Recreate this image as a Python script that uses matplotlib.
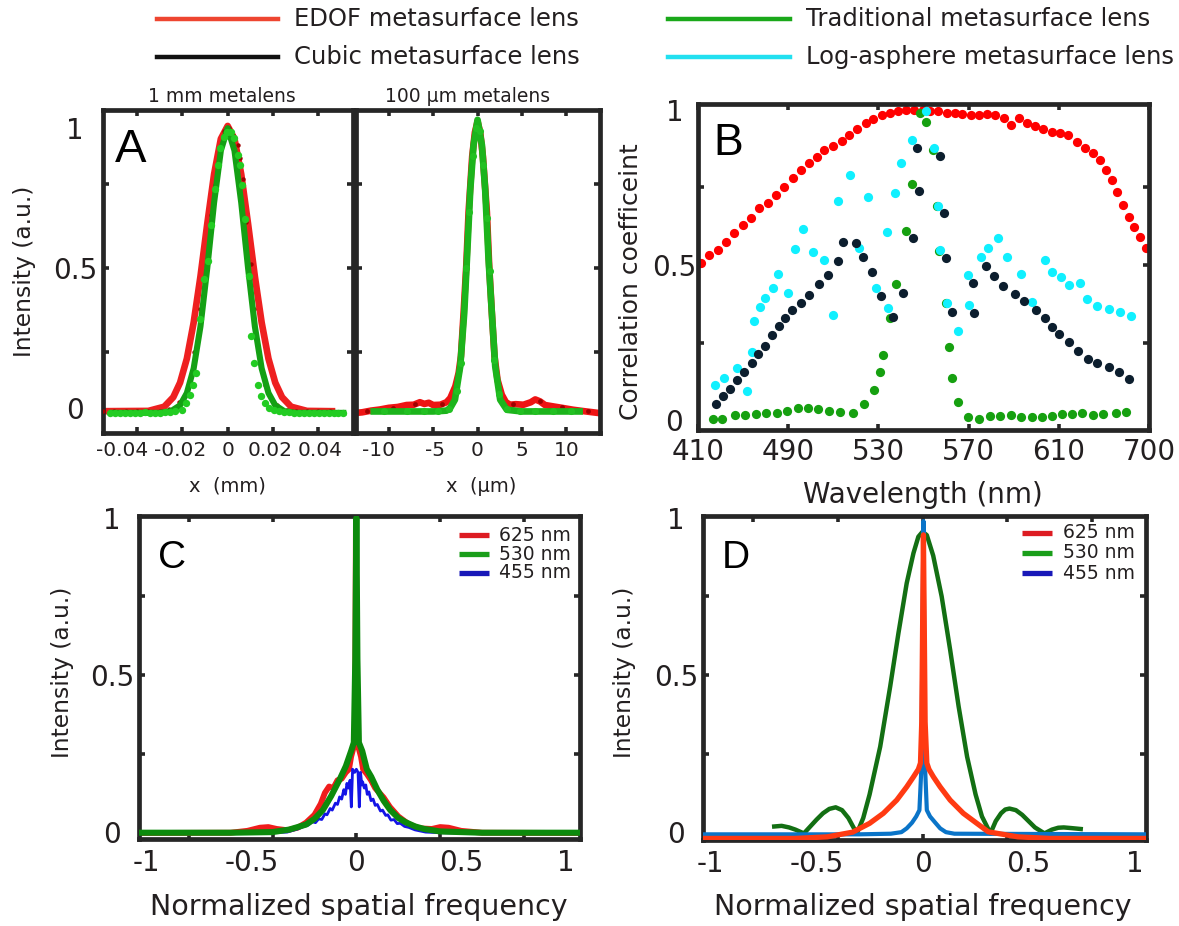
import numpy as np
import matplotlib
matplotlib.use("Agg")
import matplotlib.pyplot as plt
from matplotlib.transforms import ScaledTranslation

plt.rcParams["font.family"] = "DejaVu Sans"
plt.rcParams["axes.unicode_minus"] = False

# the figure is laid out in pixels: 1179 x 926 at 100 dpi
W, H = 1179, 926
INK = "#231f20"
FRAME = "#262626"

# ---------------- A: focal spot profiles ----------------
# 1 mm metalens, x in mm
a1_red_x = [-0.055, -0.035, -0.028, -0.024, -0.021, -0.018, -0.015, -0.012, -0.009, -0.006, -0.003, 0.0,
            0.003, 0.006, 0.009, 0.012, 0.015, 0.018, 0.021, 0.024, 0.028, 0.035, 0.046]
a1_red_y = [-0.012, -0.011, 0.004, 0.038, 0.09, 0.176, 0.305, 0.47, 0.658, 0.835, 0.962, 1.008,
            0.962, 0.835, 0.658, 0.47, 0.305, 0.176, 0.09, 0.038, 0.004, -0.011, -0.012]
a1_green_x = [-0.051, -0.03, -0.025, -0.021, -0.018, -0.015, -0.012, -0.009, -0.006, -0.003, 0.0,
              0.003, 0.006, 0.009, 0.012, 0.015, 0.018, 0.021, 0.025, 0.03, 0.051]
a1_green_y = [-0.018, -0.018, -0.012, 0.009, 0.053, 0.141, 0.291, 0.5, 0.733, 0.92, 1.0,
              0.92, 0.733, 0.5, 0.291, 0.141, 0.053, 0.009, -0.012, -0.018, -0.018]
a1_rdot_x = [-0.0548, -0.050, -0.045, -0.040, -0.035, -0.030, -0.026, -0.0215, -0.0179, -0.015, -0.012,
             -0.0091, -0.0073, -0.0054, -0.0035, -0.0015, 0.0005, 0.0025, 0.0044, 0.0056, 0.0068, 0.0082,
             0.0103, 0.0115, 0.0137, 0.0166, 0.0217, 0.026, 0.030, 0.035, 0.040, 0.045]
a1_rdot_y = [-0.012, -0.013, -0.012, -0.013, -0.011, -0.012, -0.004, 0.02, 0.053, 0.2, 0.353,
             0.508, 0.688, 0.796, 0.92, 0.99, 1.0, 0.975, 0.94, 0.892, 0.82, 0.664,
             0.514, 0.353, 0.197, 0.083, 0.011, -0.008, -0.011, -0.012, -0.011, -0.012]
a1_gdot_x = [-0.0517, -0.0495, -0.0473, -0.0451, -0.0429, -0.0407, -0.0385, -0.0363, -0.0341, -0.0319,
             -0.0297, -0.0275, -0.0253, -0.0231,
             -0.0201, -0.0182, -0.0167, -0.0153, -0.0141, -0.0123, -0.0103, -0.0088, -0.0073, -0.0057,
             -0.0044, -0.0032, -0.0018, -0.0003, 0.0015, 0.0029, 0.0044, 0.0053, 0.0063, 0.0078, 0.0093,
             0.0103, 0.0115, 0.0132, 0.0147, 0.0166, 0.0181,
             0.0203, 0.0225, 0.0247, 0.0269, 0.0291, 0.0313, 0.0335, 0.0357, 0.0379, 0.0401, 0.0423,
             0.0445, 0.0467, 0.0489, 0.0511]
a1_gdot_y = [-0.018, -0.019, -0.017, -0.019, -0.018, -0.019, -0.018, -0.016, -0.018, -0.019,
             -0.017, -0.016, -0.015, -0.012,
             -0.007, 0.019, 0.047, 0.083, 0.125, 0.317, 0.460, 0.526, 0.652, 0.784,
             0.868, 0.928, 0.970, 0.988, 0.988, 0.964, 0.904, 0.868, 0.796, 0.676, 0.472,
             0.257, 0.161, 0.083, 0.041, 0.017, -0.001,
             -0.008, -0.012, -0.015, -0.016, -0.018, -0.017, -0.019, -0.018, -0.019, -0.018, -0.019,
             -0.020, -0.019, -0.020, -0.020]
a1_ticks = [-0.04, -0.02, 0, 0.02, 0.04]
a1_ticklabels = ["-0.04", "-0.02", "0", "0.02", "0.04"]

# 100 um metalens, x in um
a2_red_x = [-14, -13, -12, -11, -10, -9, -8, -7.2, -6.5, -6, -5.5, -5, -4.2, -3.5, -3.07,
            -2.5, -2.13, -1.87, -1.57, -1.27, -1.01, -0.6, -0.3, 0,
            0.3, 0.6, 1.05, 1.31, 1.61, 1.91, 2.25, 2.73,
            3.2, 3.67, 4.3, 5.17, 6, 6.5, 7.04, 7.6, 8.54, 9.5, 10.79, 12, 13.78]
a2_red_y = [-0.019, -0.016, -0.01, -0.006, 0.0, 0.003, 0.01, 0.011, 0.02, 0.014, 0.018, 0.01, 0.011, 0.02, 0.035,
            0.077, 0.125, 0.185, 0.34, 0.508, 0.70, 0.90, 0.985, 1.024,
            0.985, 0.90, 0.70, 0.508, 0.34, 0.185, 0.10, 0.047,
            0.02, 0.011, 0.013, 0.011, 0.02, 0.03, 0.023, 0.01, 0.005, 0.0, -0.007, -0.012, -0.019]
a2_green_x = [-11.7, -5, -3.5, -3.07, -2.55, -1.95, -1.5, -1.2, -0.82, -0.45, 0,
              0.49, 0.86, 1.24, 1.61, 1.99, 2.55, 3.3, 5, 11.5]
a2_green_y = [-0.013, -0.013, -0.01, 0.0, 0.029, 0.149, 0.34, 0.53, 0.78, 0.94, 1.03,
              0.94, 0.78, 0.53, 0.34, 0.149, 0.029, -0.007, -0.013, -0.013]
a2_rdot_x = [-12.5, -9.5, -7, -4, -2.2, -1.7, -1.1, -0.7, 0.7, 1.1, 1.7, 2.2, 4, 7, 9.5, 12.5]
a2_rdot_y = [-0.012, 0.001, 0.012, 0.012, 0.1, 0.25, 0.65, 0.85, 0.85, 0.65, 0.25, 0.1, 0.012, 0.025, 0.003, -0.013]
a2_gdot_x = [-10.5, -8, -6, -4.5, -3.2, -2.3, -1.9, -1.35, -0.95, -0.55, -0.2,
             0.25, 0.65, 1.05, 1.45, 1.9, 2.4, 3.3, 4.8, 6.5, 8.5, 10.5]
a2_gdot_y = [-0.013, -0.012, -0.012, -0.011, -0.005, 0.06, 0.16, 0.5, 0.70, 0.90, 1.0,
             0.99, 0.87, 0.68, 0.49, 0.17, 0.05, -0.005, -0.01, -0.012, -0.012, -0.013]
a2_ticks = [-10, -5, 0, 5, 10]
a2_ticklabels = ["-10", "-5", "0", "5", "10"]

# ---------------- B: correlation coefficient vs wavelength ----------------
b_ticks = [410, 490, 530, 570, 610, 700]

edof_wl = [412.7, 419.8, 427.5, 434.8, 442.2, 449.6, 457.0, 464.4, 471.8, 479.2, 486.6,
           492.0, 495.7, 499.4, 502.6, 506.0, 510.0, 513.7, 517.1, 520.6, 524.4, 527.7, 531.5, 535.1,
           538.8, 542.2, 545.9, 549.6, 552.9, 556.6, 560.3, 564.0, 567.2, 570.9, 574.6, 578.3, 581.7,
           585.7, 588.8, 592.5, 596.0, 599.5, 603.1, 606.9,
           611.2, 619.5, 627.9, 636.1, 643.8, 651.1, 657.3, 662.9, 668.5, 674.1, 679.7, 685.2, 690.8, 696.6]
edof_cc = [0.505, 0.532, 0.548, 0.575, 0.602, 0.629, 0.650, 0.683, 0.701, 0.726, 0.753,
           0.780, 0.806, 0.828, 0.849, 0.871, 0.882, 0.901, 0.919, 0.938, 0.957, 0.971, 0.984, 0.991,
           0.995, 1.0, 1.0, 1.0, 0.997, 0.995, 0.991, 0.991, 0.987, 0.984, 0.984, 0.987, 0.984,
           0.973, 0.952, 0.973, 0.957, 0.948, 0.938, 0.930,
           0.925, 0.919, 0.895, 0.878, 0.862, 0.839, 0.806, 0.774, 0.736, 0.694, 0.656, 0.624, 0.591, 0.554]

trad_wl = [423.6, 431.6, 442.8, 451.7, 461.2, 470.1, 479.8, 488.7,
           494.5, 498.9, 503.3, 508.2, 513.0, 518.9, 523.6, 528.2, 530.7, 532.2, 535.2, 537.8, 542.1,
           544.8, 548.5, 551.3, 554.4, 556.1, 556.9, 559.9, 561.3, 562.8, 565.4, 569.6, 574.6, 579.5,
           583.9, 588.7, 593.2, 598.0, 602.4, 606.9,
           612.9, 622.9, 633.5, 644.1, 654.1, 666.8, 676.8]
trad_cc = [0.005, 0.005, 0.016, 0.016, 0.018, 0.022, 0.022, 0.030,
           0.038, 0.038, 0.035, 0.030, 0.025, 0.022, 0.053, 0.098, 0.156, 0.210, 0.328, 0.438, 0.611,
           0.760, 0.991, 0.962, 0.872, 0.691, 0.546, 0.376, 0.235, 0.137, 0.057, 0.011, 0.005, 0.013,
           0.013, 0.016, 0.011, 0.011, 0.009, 0.013,
           0.019, 0.019, 0.022, 0.016, 0.019, 0.024, 0.027]

logasph_wl = [425.1, 433.3, 444.9, 453.2, 457.6, 459.9, 465.0, 469.4, 476.2, 481.2, 489.6,
              493.0, 496.7, 501.1, 505.9, 510.0, 512.1, 517.6, 521.2, 525.2, 528.9, 534.0, 534.3, 537.4,
              540.0, 544.9, 551.3, 554.7, 556.4, 557.5, 560.2, 565.3, 569.9, 570.2, 575.7, 578.7, 583.2,
              587.2, 593.2, 597.9, 603.9, 607.0,
              612.2, 619.7, 631.2, 638.4, 648.1, 660.1, 670.6, 681.6]
logasph_cc = [0.113, 0.137, 0.167, 0.095, 0.220, 0.320, 0.363, 0.395, 0.425, 0.471, 0.409,
              0.551, 0.615, 0.543, 0.516, 0.339, 0.706, 0.790, 0.556, 0.720, 0.427, 0.605, 0.360, 0.731,
              0.828, 0.903, 0.997, 0.876, 0.691, 0.548, 0.376, 0.288, 0.468, 0.370, 0.525, 0.556, 0.588,
              0.527, 0.470, 0.382, 0.516, 0.478,
              0.462, 0.437, 0.443, 0.390, 0.369, 0.357, 0.349, 0.335]

cubic_wl = [425.7, 432.5, 438.4, 444.3, 451.1, 457.6, 463.0, 469.4, 475.9, 482.1, 487.2,
            491.8, 495.7, 499.2, 503.7, 507.8, 512.2, 514.4, 519.9, 523.3, 527.3, 531.0, 536.3, 541.0,
            545.5, 548.0, 547.3, 557.3, 559.1, 559.9, 562.8, 572.1, 572.6, 577.6, 581.3, 585.4, 590.6,
            594.6, 599.9, 603.9, 607.1,
            610.5, 620.2, 629.5, 638.8, 647.8, 660.1, 670.1, 680.1]
cubic_cc = [0.052, 0.077, 0.101, 0.129, 0.156, 0.183, 0.212, 0.239, 0.274, 0.303, 0.328,
            0.355, 0.378, 0.403, 0.439, 0.468, 0.514, 0.575, 0.572, 0.527, 0.477, 0.400, 0.333, 0.411,
            0.586, 0.737, 0.878, 0.852, 0.667, 0.522, 0.349, 0.443, 0.344, 0.498, 0.465, 0.433, 0.405,
            0.385, 0.355, 0.328, 0.299,
            0.276, 0.251, 0.224, 0.196, 0.183, 0.172, 0.156, 0.131]

# ---------------- C: MTF, EDOF lens ----------------
c_red_x = [-1.04, -0.6, -0.52, -0.46, -0.42, -0.38, -0.33, -0.28, -0.24, -0.2, -0.17, -0.15, -0.13, -0.11,
           -0.09, -0.07, -0.05, -0.035, -0.025, -0.015, -0.006, -0.002, 0.004, 0.012, 0.022, 0.032, 0.05,
           0.07, 0.09, 0.11, 0.13, 0.16, 0.2, 0.25, 0.3, 0.36, 0.4, 0.44, 0.5, 0.6, 1.07]
c_red_y = [-0.003, -0.002, 0.004, 0.014, 0.016, 0.01, 0.006, 0.014, 0.03, 0.055, 0.09, 0.125, 0.145, 0.14,
           0.165, 0.17, 0.19, 0.2, 0.24, 0.265, 0.3, 1.0, 0.3, 0.265, 0.24, 0.2, 0.185,
           0.165, 0.14, 0.125, 0.11, 0.08, 0.05, 0.025, 0.012, 0.01, 0.016, 0.014, 0.004, -0.002, -0.003]
c_green_x = [-1.04, -0.6, -0.4, -0.32, -0.24, -0.2, -0.16, -0.12, -0.08, -0.05, -0.025, -0.012, -0.005, 0.0,
             0.005, 0.012, 0.028, 0.05, 0.071, 0.1, 0.13, 0.162, 0.2, 0.233, 0.28, 0.323, 0.4, 0.6, 1.07]
c_green_y = [-0.002, -0.002, 0.0, 0.008, 0.024, 0.042, 0.07, 0.115, 0.167, 0.21, 0.258, 0.285, 0.55, 1.0,
             0.55, 0.285, 0.258, 0.2, 0.176, 0.135, 0.1, 0.07, 0.045, 0.032, 0.018, 0.01, 0.002, -0.002, -0.002]
c_blue_x = [-1.04, -0.6, -0.4, -0.33, -0.28, -0.25, -0.23, -0.21, -0.195, -0.18, -0.165, -0.15, -0.14,
            -0.125, -0.115, -0.1, -0.09, -0.08, -0.07, -0.06, -0.052, -0.045, -0.038, -0.03, -0.024,
            -0.018, -0.008, 0.0, 0.008, 0.014, 0.02, 0.026, 0.03, 0.038, 0.045, 0.052, 0.06, 0.07, 0.08,
            0.09, 0.1, 0.115, 0.125, 0.14, 0.15, 0.165, 0.18, 0.195, 0.21, 0.23, 0.25, 0.28, 0.33, 0.4,
            0.6, 1.07]
c_blue_y = [-0.004, -0.004, -0.002, 0.0, 0.010, 0.018, 0.022, 0.033, 0.03, 0.042, 0.04, 0.058, 0.055,
            0.075, 0.07, 0.092, 0.088, 0.112, 0.105, 0.135, 0.12, 0.155, 0.14, 0.165, 0.08,
            0.2, 0.19, 0.2, 0.19, 0.08, 0.19, 0.15, 0.16, 0.14, 0.15, 0.12, 0.128, 0.1, 0.105,
            0.085, 0.088, 0.067, 0.07, 0.053, 0.055, 0.038, 0.04, 0.027, 0.028, 0.018, 0.015, 0.007, 0.0,
            -0.002, -0.004, -0.004]

# ---------------- D: MTF, traditional lens ----------------
d_green_x = [-0.70, -0.665, -0.63, -0.60, -0.56, -0.53, -0.50, -0.47, -0.44, -0.41, -0.38, -0.35, -0.33,
             -0.31, -0.28, -0.25, -0.20, -0.153, -0.114, -0.075, -0.043, -0.02, 0.0, 0.02, 0.05, 0.09,
             0.13, 0.17, 0.21, 0.25, 0.28, 0.32, 0.345, 0.37, 0.39, 0.41, 0.44, 0.47, 0.50, 0.53, 0.575,
             0.61, 0.64, 0.666, 0.70, 0.746]
d_green_y = [0.018, 0.02, 0.015, 0.008, -0.004, 0.018, 0.04, 0.06, 0.074, 0.079, 0.07, 0.045, 0.02,
             -0.004, 0.045, 0.12, 0.272, 0.463, 0.633, 0.792, 0.888, 0.94, 0.956, 0.945, 0.88, 0.75,
             0.58, 0.40, 0.24, 0.12, 0.05, -0.004, 0.035, 0.06, 0.072, 0.075, 0.07, 0.055, 0.035, 0.015, -0.004,
             0.008, 0.014, 0.015, 0.013, 0.01]
d_red_x = [-1.04, -0.6, -0.45, -0.33, -0.25, -0.185, -0.122, -0.075, -0.043, -0.02, -0.01, -0.004, 0.004,
           0.012, 0.02, 0.03, 0.051, 0.083, 0.13, 0.192, 0.256, 0.31, 0.45, 0.6, 1.06]
d_red_y = [-0.02, -0.02, -0.015, 0.0, 0.028, 0.06, 0.102, 0.144, 0.176, 0.2, 0.22, 0.35, 0.946,
           0.35, 0.22, 0.2, 0.176, 0.144, 0.102, 0.06, 0.028, 0.001, -0.015, -0.02, -0.02]
d_blue_x = [-1.04, -0.3, -0.15, -0.1, -0.075, -0.05, -0.03, -0.015, -0.006, 0.004, 0.012, 0.02, 0.035,
            0.06, 0.083, 0.11, 0.15, 1.06]
d_blue_y = [-0.007, -0.007, -0.005, 0.0, 0.012, 0.03, 0.05, 0.07, 0.2, 0.99, 0.2, 0.07, 0.05,
            0.03, 0.012, 0.0, -0.005, -0.007]

mtf_labels = ["625 nm", "530 nm", "455 nm"]
mtf_key_colors = ["#dd1c22", "#1a9e1a", "#1818b8"]
lens_labels = ["EDOF metasurface lens", "Traditional metasurface lens",
               "Cubic metasurface lens", "Log-asphere metasurface lens"]
lens_colors = ["#ee4530", "#1aa81a", "#111111", "#22e0f0"]


def axes_px(fig, left, top, right, bottom):
    return fig.add_axes([left / W, 1 - bottom / H, (right - left) / W, (bottom - top) / H])


def text_px(fig, x, y, s, size, rot=0):
    fig.text(x / W, 1 - y / H, s, fontsize=size, rotation=rot,
             ha="center", va="center", color=INK)


def frame(ax, xmarks=(), ymarks=()):
    for sp in ax.spines.values():
        sp.set_linewidth(3.4)
        sp.set_color(FRAME)
    ax.xaxis.remove_overlapping_locs = False
    ax.yaxis.remove_overlapping_locs = False
    ax.tick_params(which="both", direction="in", top=True, right=True,
                   color=FRAME, labelcolor=INK)
    ax.tick_params(which="major", length=0)
    ax.tick_params(which="minor", length=4.5, width=2.6)
    ax.set_xticks(list(xmarks), minor=True)
    ax.set_yticks(list(ymarks), minor=True)


def yticks_centered(ax, ticks, labels, size, pad):
    ax.set_yticks(ticks)
    ax.set_yticklabels(labels, fontsize=size, ha="center")
    ax.tick_params(axis="y", which="major", pad=pad)


def nudge_xlabels(fig, ax, shifts_px):
    # small sideways shifts so the crowded tick labels don't run together
    for lab, dx in zip(ax.get_xticklabels(), shifts_px):
        lab.set_transform(lab.get_transform() + ScaledTranslation(dx / 100, 0, fig.dpi_scale_trans))


def letter(ax, s, x, y, size):
    ax.text(x, y, s, transform=ax.transAxes, fontsize=size, family="Liberation Sans",
            color="black", ha="left", va="baseline")


def mtf_key(ax, x0, x1, xt, rows):
    for lab, col, yy in zip(mtf_labels, mtf_key_colors, rows):
        ax.plot([x0, x1], [yy, yy], transform=ax.transAxes, color=col, lw=3.8,
                solid_capstyle="butt", clip_on=False, zorder=10)
        ax.text(xt, yy, lab, transform=ax.transAxes, fontsize=13.5, color=INK,
                ha="left", va="center", zorder=10)


fig = plt.figure(figsize=(W / 100, H / 100), dpi=100)

# ---- top legend ----
rows_y = [19, 19, 57, 57]
line_x = [(157, 278), (668, 790), (157, 278), (668, 790)]
for lab, col, yy, (x0, x1) in zip(lens_labels, lens_colors, rows_y, line_x):
    fig.add_artist(plt.Line2D([x0 / W, x1 / W], [1 - yy / H, 1 - yy / H], color=col, lw=3.2))
    fig.text((x1 + 16) / W, 1 - yy / H, lab, fontsize=17.5, color=INK, ha="left", va="center")

# ---- A, 1 mm lens ----
ax = axes_px(fig, 103, 110, 353, 433)
ax.plot(a1_red_x, a1_red_y, color="#ee2020", lw=4.8, zorder=2)
ax.scatter(a1_rdot_x, a1_rdot_y, s=10, color="#a00000", linewidths=0, zorder=3)
ax.plot(a1_green_x, a1_green_y, color="#14a014", lw=4.4, zorder=4)
ax.scatter(a1_gdot_x, a1_gdot_y, s=28, color="#22cc22", linewidths=0, zorder=5)
ax.set_xlim(-0.055, 0.0553)
ax.set_ylim(-0.09, 1.065)
frame(ax, xmarks=a1_ticks, ymarks=[0.2, 0.5, 0.8])
ax.set_xticks(a1_ticks)
ax.set_xticklabels(a1_ticklabels, fontsize=14.5)
ax.tick_params(axis="x", which="major", pad=6)
yticks_centered(ax, [0, 0.5, 1], ["0", "0.5", "1"], 20, 20)
nudge_xlabels(fig, ax, [-15, -2, 0, -3, 2])
letter(ax, "A", 0.048, 0.839, 34)

# ---- A, 100 um lens ----
ax = axes_px(fig, 356, 110, 600, 433)
ax.plot(a2_red_x, a2_red_y, color="#ee1414", lw=4.8, zorder=2)
ax.scatter(a2_rdot_x, a2_rdot_y, s=12, color="#a00000", linewidths=0, zorder=3)
ax.plot(a2_green_x, a2_green_y, color="#1cb41c", lw=4.8, zorder=4)
ax.scatter(a2_gdot_x, a2_gdot_y, s=26, color="#22c022", linewidths=0, zorder=5)
ax.set_xlim(-13.7, 13.8)
ax.set_ylim(-0.09, 1.065)
frame(ax, xmarks=a2_ticks, ymarks=[0.2, 0.5, 0.8])
ax.set_xticks(a2_ticks)
ax.set_xticklabels(a2_ticklabels, fontsize=14.5)
ax.tick_params(axis="x", which="major", pad=6)
ax.set_yticks([])
nudge_xlabels(fig, ax, [-10, 2, 0, 0, 0])

text_px(fig, 222, 96, "1 mm metalens", 13.5)
text_px(fig, 468, 96, "100 μm metalens", 13.5)
text_px(fig, 25, 271, "Intensity (a.u.)", 16.8, rot=90)
text_px(fig, 227, 486, "x  (mm)", 14)
text_px(fig, 481, 486, "x  (μm)", 14)

# ---- B ----
tick_pos = np.arange(len(b_ticks), dtype=float)


def wl_fwd(w):
    return np.interp(w, b_ticks, tick_pos)


def wl_inv(u):
    return np.interp(u, tick_pos, b_ticks)


ax = axes_px(fig, 698, 104, 1149, 430)
ax.set_xscale("function", functions=(wl_fwd, wl_inv))
ax.scatter(edof_wl, edof_cc, s=44, color="#ff0000", linewidths=0, zorder=2)
ax.scatter(trad_wl, trad_cc, s=44, color="#16a010", linewidths=0, zorder=3)
ax.scatter(logasph_wl, logasph_cc, s=44, color="#10f0ff", linewidths=0, zorder=4)
ax.scatter(cubic_wl, cubic_cc, s=44, color="#0c1e2e", linewidths=0, zorder=5)
ax.set_xlim(410, 700)
ax.set_ylim(-0.032, 1.019)
frame(ax, xmarks=b_ticks, ymarks=[0.25, 0.5, 0.75])
ax.set_xticks(b_ticks)
ax.set_xticklabels([str(t) for t in b_ticks], fontsize=20)
ax.tick_params(axis="x", which="major", pad=5.5)
yticks_centered(ax, [0, 0.5, 1], ["0", "0.5", "1"], 20, 17)
letter(ax, "B", 0.035, 0.844, 32)
text_px(fig, 631, 282, "Correlation coefficeint", 18, rot=90)
text_px(fig, 923, 495, "Wavelength (nm)", 20)

# ---- C ----
ax = axes_px(fig, 139, 516, 580, 839)
ax.plot(c_red_x, c_red_y, color="#f01c1c", lw=4.2, zorder=2)
ax.plot(c_blue_x, c_blue_y, color="#1414e6", lw=2.0, zorder=3)
ax.plot(c_green_x, c_green_y, color="#0c8a0c", lw=4.4, zorder=4)
ax.set_xlim(-1.037, 1.067)
ax.set_ylim(-0.022, 1.006)
frame(ax, xmarks=[-0.8, -0.4, 0, 0.4, 0.8], ymarks=[0.25, 0.5, 0.75])
ax.set_xticks([-1, -0.5, 0, 0.5, 1])
ax.set_xticklabels(["-1", "-0.5", "0", "0.5", "1"], fontsize=20)
ax.tick_params(axis="x", which="major", pad=7.5)
yticks_centered(ax, [0, 0.5, 1], ["0", "0.5", "1"], 20, 19.5)
letter(ax, "C", 0.043, 0.839, 28)
mtf_key(ax, 0.726, 0.794, 0.816, [0.941, 0.882, 0.824])
text_px(fig, 62, 672, "Intensity (a.u.)", 16.8, rot=90)
text_px(fig, 359, 907, "Normalized spatial frequency", 20.5)

# ---- D ----
ax = axes_px(fig, 703, 516, 1146, 840)
ax.plot(d_green_x, d_green_y, color="#136f13", lw=3.2, zorder=2)
ax.plot(d_blue_x, d_blue_y, color="#0a74c8", lw=3.0, zorder=3)
ax.plot(d_red_x, d_red_y, color="#ff3a12", lw=3.8, zorder=4)
ax.set_xlim(-1.036, 1.054)
ax.set_ylim(-0.025, 1.006)
frame(ax, xmarks=[-0.8, -0.4, 0, 0.4, 0.8], ymarks=[0.25, 0.5, 0.75])
ax.set_xticks([-1, -0.5, 0, 0.5, 1])
ax.set_xticklabels(["-1", "-0.5", "0", "0.5", "1"], fontsize=20)
ax.tick_params(axis="x", which="major", pad=7.5)
yticks_centered(ax, [0, 0.5, 1], ["0", "0.5", "1"], 20, 19.5)
letter(ax, "D", 0.043, 0.84, 28)
mtf_key(ax, 0.72, 0.788, 0.813, [0.948, 0.886, 0.824])
text_px(fig, 624, 672, "Intensity (a.u.)", 16.8, rot=90)
text_px(fig, 923, 907, "Normalized spatial frequency", 20.5)

fig.savefig("out.png", dpi=100)
